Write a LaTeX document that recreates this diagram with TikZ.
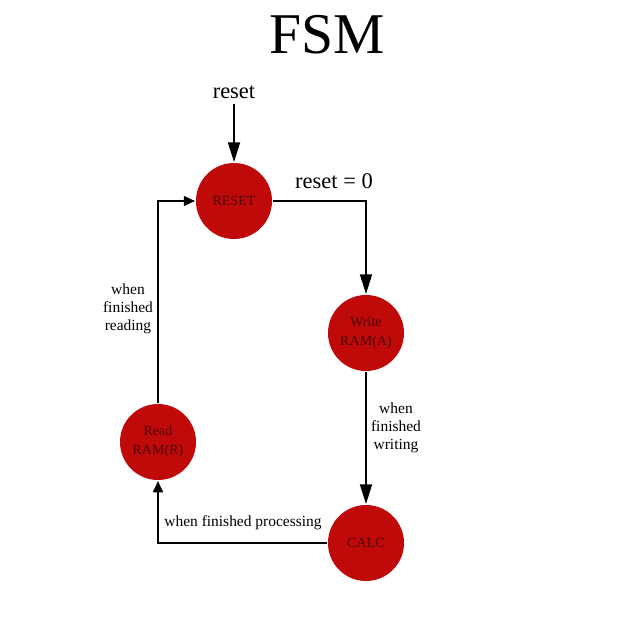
\documentclass[tikz,border=0pt]{standalone}
\usepackage{fontspec}
\setmainfont{Liberation Serif}
\usetikzlibrary{positioning,arrows.meta}

\definecolor{fsmred}{RGB}{192,10,10}
\definecolor{fsmtext}{RGB}{75,5,5}

\begin{document}
\begin{tikzpicture}[x=0.025cm,y=-0.025cm,line width=1.4pt,
    state/.style={circle,fill=fsmred,text=fsmtext,minimum size=1.9cm,
      inner sep=0pt,align=center,font=\fontsize{10}{13.5}\selectfont},
    cond/.style={align=center,font=\fontsize{11}{12.8}\selectfont},
    bigarrow/.style={-{Triangle[length=14pt,width=8.5pt]}},
    smallarrow/.style={-{Triangle[length=8pt,width=7pt]}}]
  \useasboundingbox (0,0) rectangle (640,640);

  \node (title) at (327,35) {\fontsize{41}{45}\selectfont FSM};

  % The four states.
  \node[state] (reset) at (234,201) {RESET};
  \node[state] (write) at (366,333) {Write\\RAM(A)};
  \node[state] (calc)  at (366,543) {CALC};
  \node[state] (read)  at (158,442) {Read\\RAM(R)};

  % Input and transition labels.
  \node[font=\fontsize{16}{18}\selectfont,anchor=base] (rstin) at (234,98) {reset};
  \node[font=\fontsize{16}{18}\selectfont,anchor=base] (rstzero) at (334,188) {reset = 0};
  \node[cond] (lblwrite) at (396,428) {when\\finished\\writing};
  \node[cond] (lblcalc)  at (243,523) {when finished processing};
  \node[cond] (lblread)  at (128,309) {when\\finished\\reading};

  % Transitions.
  \draw[bigarrow] (rstin) -- (reset);
  \draw[bigarrow] (reset.east) -| (write);
  \draw[bigarrow] (write) -- (calc);
  \draw[smallarrow] (calc.west) -| (read);
  \draw[smallarrow] (read) |- (reset);
\end{tikzpicture}
\end{document}
